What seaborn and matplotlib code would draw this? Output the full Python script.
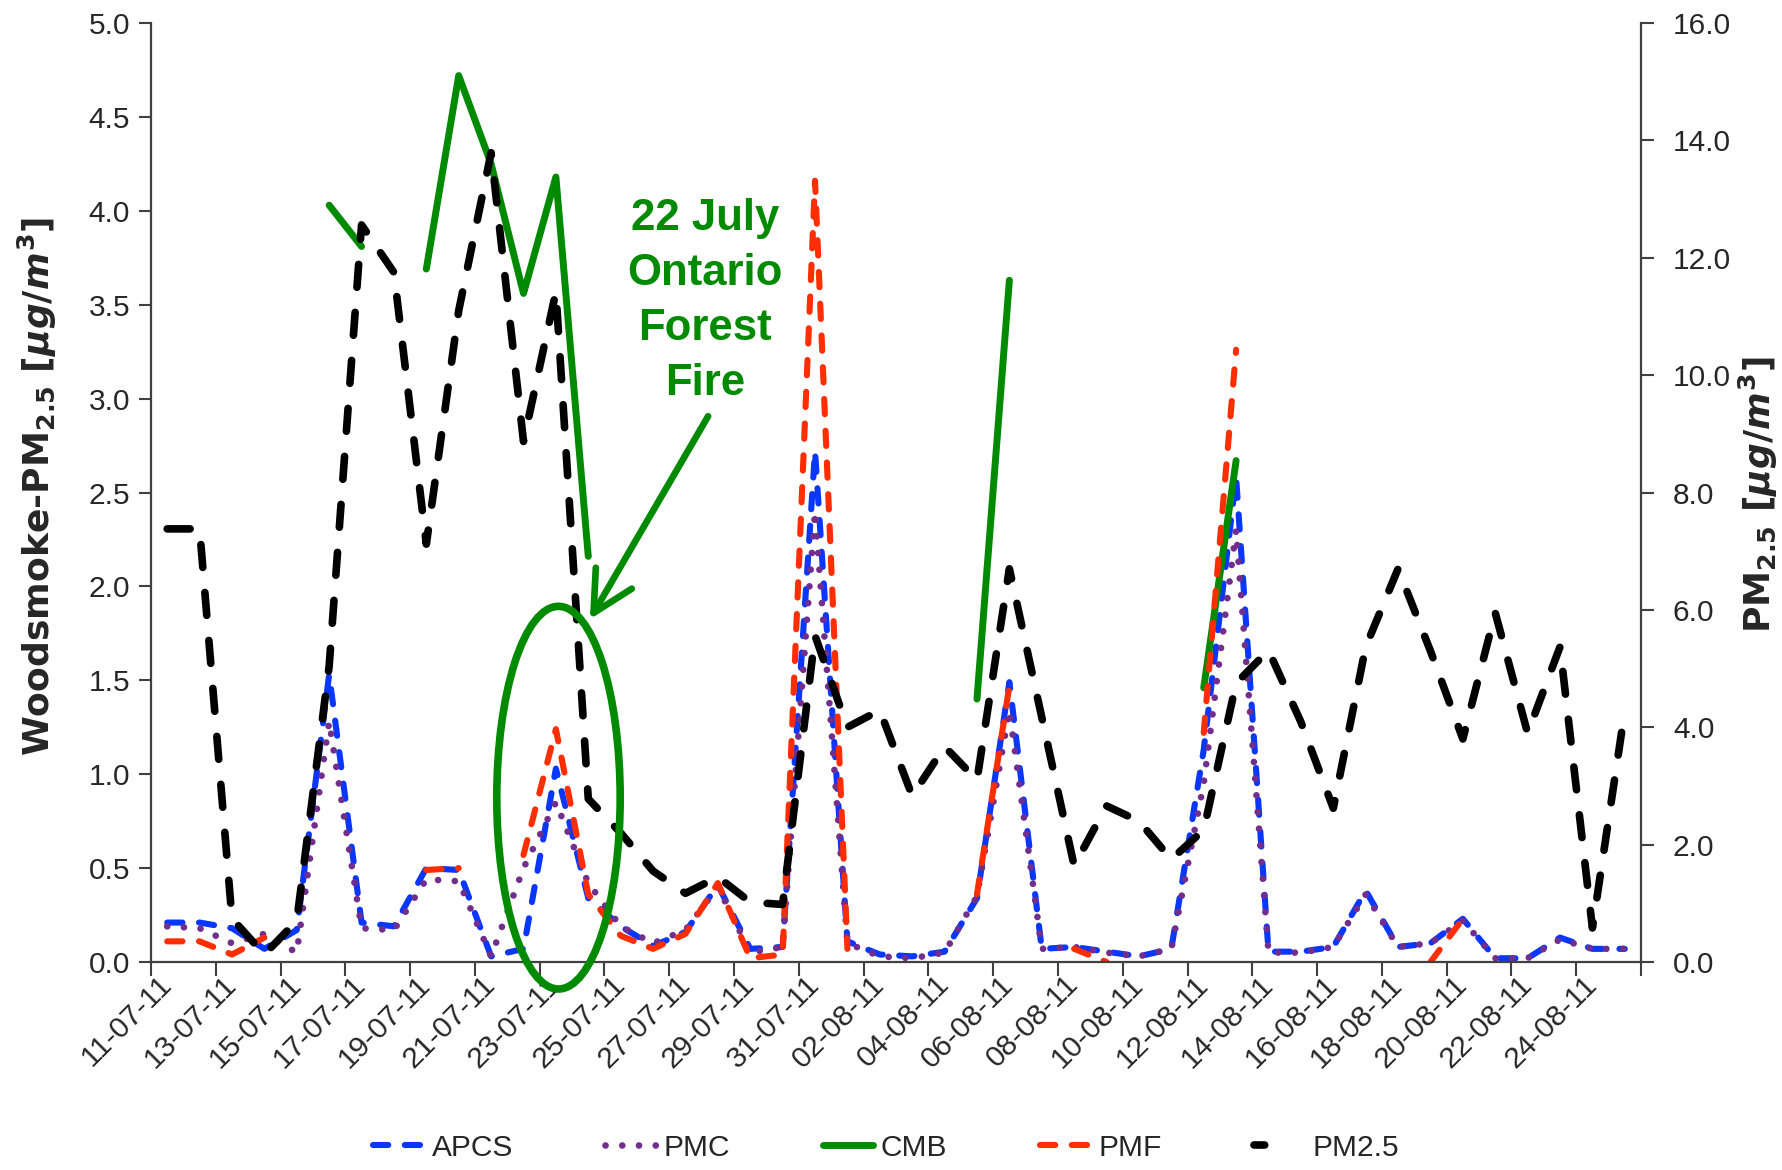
import numpy as np
import pandas as pd
import matplotlib
matplotlib.use("Agg")
import matplotlib.pyplot as plt
import matplotlib.font_manager as fm
import seaborn as sns
from matplotlib.patches import Ellipse
from matplotlib.lines import Line2D

nan = np.nan

# ---------------- data ----------------
dates = pd.date_range("2011-07-11", "2011-08-25", freq="D")
date_labels = [d.strftime("%d-%m-%y") for d in dates]

apcs = [0.21, 0.21, 0.18, 0.07, 0.17, 1.53, 0.21, 0.19, 0.50, 0.49,
        0.03, 0.07, 1.03, 0.34, 0.19, 0.085, 0.16, 0.41, 0.07, 0.08,
        2.72, 0.11, 0.04, 0.03, 0.055, 0.34, 1.49, 0.07, 0.08, 0.055,
        0.03, 0.07, 1.13, 2.58, 0.055, 0.055, 0.08, 0.38, 0.08, 0.10,
        0.23, 0.02, 0.02, 0.13, 0.07, 0.07]

pmc = [0.19, 0.18, 0.10, 0.15, 0.05, 1.28, 0.18, 0.17, 0.44, 0.43,
       0.03, 0.50, 0.85, 0.42, 0.19, 0.10, 0.17, 0.40, 0.05, 0.08,
       2.40, 0.10, 0.03, 0.02, 0.05, 0.35, 1.34, 0.07, 0.08, 0.05,
       0.03, 0.07, 0.95, 2.30, 0.05, 0.05, 0.08, 0.36, 0.08, 0.10,
       0.22, 0.02, 0.02, 0.12, 0.07, 0.07]

cmb = [nan, nan, nan, nan, nan, 4.03, 3.81, nan, 3.69, 4.72,
       4.25, 3.56, 4.18, 2.16, nan, nan, nan, nan, nan, nan,
       nan, nan, nan, nan, nan, 1.40, 3.63, nan, nan, nan,
       nan, nan, 1.46, 2.67, nan, nan, nan, nan, nan, nan,
       nan, nan, nan, nan, nan, nan]

pmf = [0.11, 0.11, 0.04, 0.13, nan, nan, nan, nan, 0.49, 0.50,
       nan, 0.57, 1.24, 0.36, 0.14, 0.07, 0.15, 0.42, 0.02, 0.04,
       4.16, 0.07, nan, nan, nan, 0.36, 1.47, nan, 0.07, 0.0,
       nan, nan, 1.22, 3.26, nan, nan, nan, nan, nan, 0.0,
       0.23, nan, nan, nan, nan, nan]

pm25 = [7.38, 7.38, 0.74, 0.13, 0.70, 5.04, 12.56, 11.75, 7.12, 11.1,
        13.79, 8.87, 11.42, 2.78, 2.20, 1.55, 1.17, 1.45, 1.02, 0.98,
        5.56, 4.00, 4.29, 2.83, 3.67, 3.10, 6.70, 4.17, 1.64, 2.66,
        2.40, 1.75, 2.25, 4.75, 5.31, 4.09, 2.62, 5.37, 6.70, 5.30,
        3.80, 5.95, 3.90, 5.37, 0.58, 4.28]

series_names = ["APCS", "PMC", "CMB", "PMF", "PM2.5"]

# ---------------- style ----------------
sns.set_theme(style="ticks")
plt.rcParams['font.family'] = ['Liberation Sans', 'DejaVu Sans']
plt.rcParams['mathtext.fontset'] = 'custom'
plt.rcParams['mathtext.rm'] = 'DejaVu Sans:bold'
plt.rcParams['mathtext.it'] = 'DejaVu Sans:italic:bold'
plt.rcParams['mathtext.bf'] = 'DejaVu Sans:bold'


def has_font(name):
    try:
        fm.findfont(fm.FontProperties(family=name), fallback_to_default=False)
        return True
    except Exception:
        return False


if has_font('Liberation Sans Narrow'):
    TICKFONT, TICKSIZE = 'Liberation Sans Narrow', 24
else:
    TICKFONT, TICKSIZE = 'Liberation Sans', 21.5

BLUE = "#0A37FF"
PURPLE = "#722E8C"
GREEN = "#008A00"
RED = "#FF2E00"
BLACK = "#000000"
AXC = "#404040"

styles = {
    "APCS": dict(color=BLUE, lw=4.4, linestyle=(0, (2.5, 2.7)), dash_capstyle='round'),
    "PMC": dict(color=PURPLE, lw=4.8, linestyle=(0, (0.01, 2.5)), dash_capstyle='round'),
    "CMB": dict(color=GREEN, lw=5.0, linestyle='-', solid_capstyle='round'),
    "PMF": dict(color=RED, lw=4.4, linestyle=(0, (2.5, 2.7)), dash_capstyle='round'),
    "PM2.5": dict(color=BLACK, lw=5.5, linestyle=(0, (3.0, 3.3)), dash_capstyle='round'),
}

days = np.arange(len(dates))

fig = plt.figure(figsize=(17.83, 11.70), dpi=100)
ax = fig.add_axes([151 / 1783, 1 - 962 / 1170, (1641 - 151) / 1783, (962 - 23) / 1170])
ax2 = ax.twinx()


def draw(axis, values, name):
    df = pd.DataFrame({"x": days, "y": values})
    df["seg"] = df["y"].isna().cumsum()
    df = df.dropna()
    for _, g in df.groupby("seg"):
        if len(g) > 1:
            sns.lineplot(data=g, x="x", y="y", ax=axis, legend=False,
                         estimator=None, errorbar=None, sort=False,
                         **styles[name])


draw(ax, apcs, "APCS")
draw(ax, pmc, "PMC")
draw(ax, cmb, "CMB")
draw(ax, pmf, "PMF")
draw(ax2, pm25, "PM2.5")

# ---------------- axes ----------------
ax.set_xlim(-0.5, 45.5)
ax2.set_xlim(-0.5, 45.5)
ax.set_ylim(0, 5)
ax2.set_ylim(0, 16)
ax.set_yticks(np.arange(0, 5.01, 0.5))
ax2.set_yticks(np.arange(0, 16.01, 2.0))
ax.yaxis.set_major_formatter('{x:.1f}')
ax2.yaxis.set_major_formatter('{x:.1f}')

ax.set_xticks(np.arange(-0.5, 45.6, 2))
ax.set_xticklabels([])
ax.set_xticks(days[::2], minor=True)
ax.set_xticklabels(date_labels[::2], minor=True, rotation=45, ha='right',
                   va='center', rotation_mode='anchor')
ax.tick_params(axis='x', which='minor', length=0, pad=13, labelsize=TICKSIZE,
               labelfontfamily=TICKFONT)
ax.tick_params(axis='x', which='major', direction='out', length=10, width=1.5, color=AXC)
ax.tick_params(axis='y', direction='out', length=9, width=1.5, color=AXC,
               labelsize=TICKSIZE, pad=6, labelfontfamily=TICKFONT)
ax2.tick_params(axis='y', direction='out', length=9, width=1.5, color=AXC,
                labelsize=TICKSIZE, pad=14, labelfontfamily=TICKFONT)
ax.set_xlabel("")
ax.set_ylabel("")
ax2.set_ylabel("")
ax2.set_xlabel("")

for a in (ax, ax2):
    a.spines['top'].set_visible(False)
    for s in ('left', 'right', 'bottom'):
        a.spines[s].set_color(AXC)
        a.spines[s].set_linewidth(1.6)
ax.spines['right'].set_visible(False)
ax2.spines['left'].set_visible(False)
ax2.spines['bottom'].set_visible(False)

fig.text(37 / 1783, 1 - 486 / 1170, r"Woodsmoke-PM$_{2.5}$ $[\mu g/m^3]$",
         rotation=90, ha='center', va='center', fontsize=26,
         fontweight='bold', family='DejaVu Sans')
fig.text(1758 / 1783, 1 - 495 / 1170, r"PM$_{2.5}$ $[\mu g/m^3]$",
         rotation=90, ha='center', va='center', fontsize=26,
         fontweight='bold', family='DejaVu Sans')

# ---------------- annotation ----------------
ell = Ellipse((12.08, 2.80), width=3.81, height=6.52, fill=False,
              edgecolor=GREEN, lw=5.5, clip_on=False, zorder=5)
ax2.add_patch(ell)
ax2.annotate("", xy=(13.05, 5.84), xytext=(16.70, 9.30),
             arrowprops=dict(arrowstyle="->,head_length=1.45,head_width=0.75",
                             color=GREEN, lw=4.8, shrinkA=0, shrinkB=0,
                             mutation_scale=20), zorder=6)
ax2.text(16.6, 13.02, "22 July\nOntario\nForest\nFire", ha='center', va='top',
         fontsize=31.5, fontweight='bold', color=GREEN, family='Liberation Sans',
         linespacing=1.44, multialignment='center', zorder=6)

# ---------------- legend ----------------
legend_styles = {n: dict(styles[n]) for n in series_names}
legend_styles["PM2.5"]["linestyle"] = (0, (1.4, 12))
handles = [Line2D([0], [0], **legend_styles[n]) for n in series_names]
fig.legend(handles, series_names, loc='center', bbox_to_anchor=(0.497, 0.019),
           ncol=5, frameon=False, fontsize=21.5, handlelength=1.7,
           handletextpad=0.25, columnspacing=3.1)

fig.savefig("out.png", dpi=100)
